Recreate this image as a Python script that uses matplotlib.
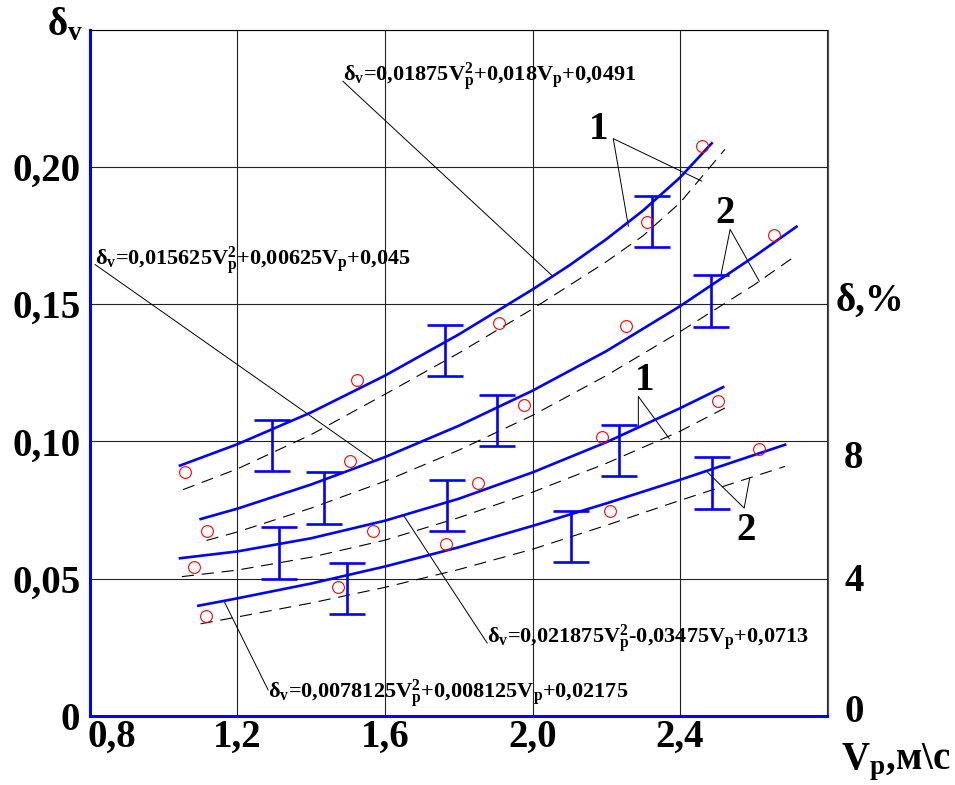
import matplotlib
matplotlib.use("Agg")
import numpy as np
import matplotlib.pyplot as plt
from matplotlib.transforms import ScaledTranslation

plt.rcParams["font.family"] = "Liberation Serif"
plt.rcParams["font.weight"] = "bold"
plt.rcParams["mathtext.fontset"] = "custom"
plt.rcParams["mathtext.rm"] = "Liberation Serif:bold"
plt.rcParams["mathtext.it"] = "Liberation Serif:bold"
plt.rcParams["mathtext.bf"] = "Liberation Serif:bold"
plt.rcParams["mathtext.default"] = "regular"

# regression curves (solid blue)
v1 = [1.044, 1.2, 1.4, 1.6, 1.8, 2.0, 2.1, 2.2, 2.3, 2.4, 2.486]
d1 = [0.0912, 0.0990, 0.1106, 0.1240, 0.1390, 0.1554, 0.1642, 0.1737, 0.1842, 0.1962, 0.2087]
v2 = [1.10, 1.2, 1.4, 1.6, 1.8, 2.0, 2.2, 2.4, 2.6, 2.716]
d2 = [0.0717, 0.0755, 0.0843, 0.0943, 0.1057, 0.1185, 0.1329, 0.1493, 0.1673, 0.1783]
v3 = [1.044, 1.2, 1.4, 1.6, 1.8, 2.0, 2.2, 2.4, 2.517]
d3 = [0.0574, 0.0599, 0.0647, 0.0711, 0.0791, 0.0887, 0.0997, 0.1121, 0.1198]
v4 = [1.094, 1.2, 1.4, 1.6, 1.8, 2.0, 2.2, 2.4, 2.6, 2.685]
d4 = [0.0401, 0.0428, 0.0482, 0.0544, 0.0614, 0.0692, 0.0774, 0.0860, 0.0950, 0.0988]

# theoretical curves (dashed)
tv1 = [1.052, 1.2, 1.4, 1.6, 1.8, 2.0, 2.2, 2.3, 2.4, 2.522]
td1 = [0.0824, 0.0900, 0.1025, 0.1172, 0.1322, 0.1483, 0.1655, 0.1750, 0.1870, 0.2065]
tv2 = [1.116, 1.2, 1.4, 1.6, 1.8, 2.0, 2.2, 2.4, 2.6, 2.716]
td2 = [0.0639, 0.0670, 0.0757, 0.0855, 0.0968, 0.1095, 0.1240, 0.1400, 0.1570, 0.1679]
tv3 = [1.049, 1.2, 1.4, 1.6, 1.8, 2.0, 2.2, 2.4, 2.522]
td3 = [0.0507, 0.0531, 0.0578, 0.0640, 0.0722, 0.0815, 0.0920, 0.1037, 0.1122]
tv4 = [1.10, 1.2, 1.4, 1.6, 1.8, 2.0, 2.2, 2.4, 2.6, 2.685]
td4 = [0.0335, 0.0360, 0.0411, 0.0468, 0.0533, 0.0607, 0.0694, 0.0785, 0.0872, 0.0909]

# experimental points
pts_v = [1.058, 1.116, 1.083, 1.114, 1.505, 1.568, 1.473, 1.765, 1.525, 1.909,
         1.977, 1.853, 2.188, 2.504, 2.615, 2.210, 2.459, 2.311, 2.655, 2.253]
pts_d = [0.0887, 0.0675, 0.0542, 0.0364, 0.0930, 0.0672, 0.0471, 0.0627, 0.1225, 0.1432,
         0.1131, 0.0850, 0.1016, 0.1149, 0.0973, 0.0745, 0.2077, 0.1801, 0.1752, 0.1422]

# confidence intervals
bar_v = [1.294, 1.435, 1.313, 1.496, 1.769, 1.763, 1.903, 2.235, 2.104, 2.486, 2.323, 2.483]
bar_lo = [0.0893, 0.0700, 0.0500, 0.0371, 0.0672, 0.1237, 0.0984, 0.0875, 0.0561, 0.0754, 0.1709, 0.1418]
bar_hi = [0.1079, 0.0887, 0.0688, 0.0556, 0.0858, 0.1423, 0.1170, 0.1061, 0.0748, 0.0942, 0.1894, 0.1605]

xticks = [0.8, 1.2, 1.6, 2.0, 2.4, 2.8]
xlabels = ["0,8", "1,2", "1,6", "2,0", "2,4", ""]
yticks = [0, 0.05, 0.10, 0.15, 0.20, 0.25]
ylabels = ["0", "0,05", "0,10", "0,15", "0,20", ""]
rticks = [0, 4, 8]
rlabels = ["0", "4", "8"]

eq1 = "δ$_v$=0,01875V$_p^2$+0,018V$_p$+0,0491"
eq2 = "δ$_v$=0,015625V$_p^2$+0,00625V$_p$+0,045"
eq3 = "δ$_v$=0,021875V$_p^2$-0,03475V$_p$+0,0713"
eq4 = "δ$_v$=0,0078125V$_p^2$+0,008125V$_p$+0,02175"

blue = "#0000ff"

fig = plt.figure(figsize=(9.55, 7.85), dpi=100)
ax = fig.add_axes([90 / 955, 1 - 715.7 / 785, 737.5 / 955, 685.7 / 785])
ax.set_xlim(0.8, 2.8)
ax.set_ylim(0, 0.25)

ax.set_xticks(xticks)
ax.set_xticklabels(xlabels, fontsize=28)
ax.set_yticks(yticks)
ax.set_yticklabels(ylabels, fontsize=28)
ax.tick_params(axis="x", length=0, pad=2)
ax.tick_params(axis="y", length=0, pad=7)
ax.grid(True, color="#222222", lw=0.8)

for side in ["left", "bottom"]:
    ax.spines[side].set_color(blue)
    ax.spines[side].set_linewidth(2.2)
ax.spines["top"].set_linewidth(0.8)
ax.spines["right"].set_color("#555555")
ax.spines["right"].set_linewidth(0.9)

for v, d in [(tv1, td1), (tv2, td2), (tv3, td3), (tv4, td4)]:
    ax.plot(v, d, color="k", lw=0.8, ls=(0, (11, 7)), zorder=3)
for v, d in [(v1, d1), (v2, d2), (v3, d3), (v4, d4)]:
    ax.plot(v, d, color=blue, lw=1.9, zorder=4, solid_joinstyle="round")

lo = np.array(bar_lo)
hi = np.array(bar_hi)
ax.errorbar(bar_v, lo, yerr=[np.zeros_like(lo), hi - lo], fmt="none",
            ecolor=blue, elinewidth=1.9, capsize=13, capthick=1.9, zorder=5)
ax.plot(pts_v, pts_d, "o", mfc="none", mec="red", ms=8.5, mew=0.8, zorder=6)

# equation labels with leaders
eq_style = dict(fontsize=16, ha="left", va="baseline")
ax.text(1.486, 0.2313, eq1, **eq_style)
ax.plot([1.486, 2.056], [0.2313, 0.1601], color="k", lw=0.7)
ax.text(0.8136, 0.1645, eq2, **eq_style)
ax.plot([0.8136, 1.567], [0.1645, 0.0933], color="k", lw=0.7)
ax.text(1.877, 0.0265, eq3, **eq_style)
ax.plot([1.877, 1.649], [0.0265, 0.0733], color="k", lw=0.7)
ax.text(1.283, 0.0065, eq4, **eq_style)
ax.plot([1.283, 1.163], [0.0094, 0.0419], color="k", lw=0.7)

# curve group markers
num_style = dict(fontsize=28, ha="center", va="baseline")
ax.text(2.178, 0.2101, "1", **num_style)
ax.plot([2.260, 2.219, 2.459], [0.1785, 0.2104, 0.1949], color="k", lw=0.7)
ax.text(2.522, 0.1798, "2", **num_style)
ax.plot([2.511, 2.536, 2.615], [0.1606, 0.1773, 0.1584], color="k", lw=0.7)
ax.text(2.305, 0.1189, "1", **num_style)
ax.plot([2.287, 2.287, 2.371], [0.1049, 0.1164, 0.1010], color="k", lw=0.7)
ax.text(2.579, 0.0641, "2", **num_style)
ax.plot([2.472, 2.574, 2.589], [0.0891, 0.0757, 0.0866], color="k", lw=0.7)

# percent scale on the right
ax2 = ax.twinx()
ax2.set_ylim(0, 20)
ax2.set_yticks(rticks)
ax2.set_yticklabels(rlabels, fontsize=28)
ax2.tick_params(axis="y", length=0, pad=12)
for s in ax2.spines.values():
    s.set_visible(False)

def shift(label, dx, dy):
    label.set_transform(label.get_transform() +
                        ScaledTranslation(dx / 100, dy / 100, fig.dpi_scale_trans))

for lab, dy in zip(ax2.get_yticklabels(), [8, 2, -13]):
    shift(lab, 0, dy)
shift(ax.get_xticklabels()[0], 22, 0)

fig.text(47 / 955, 1 - 35 / 785, "δ$_v$", fontsize=28, ha="left", va="baseline")
fig.text(836 / 955, 1 - 311 / 785, "δ,%", fontsize=28, ha="left", va="baseline")
fig.text(841 / 955, 1 - 769 / 785, "V$_p$,м\\c", fontsize=28, ha="left", va="baseline")

fig.savefig("out.png", dpi=100)
